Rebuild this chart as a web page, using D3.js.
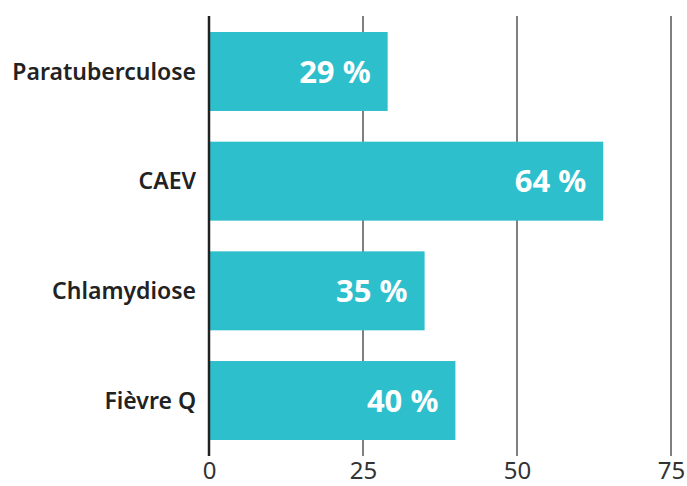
<!DOCTYPE html>
<html>
<head>
<meta charset="utf-8">
<script src="https://cdn.jsdelivr.net/npm/d3@7"></script>
<style>
  body { margin: 0; background: #fff; }
  svg { display: block; font-family: "Noto Sans", sans-serif; }
</style>
</head>
<body>
<svg></svg>
<script>
// chart data
let categories = ['Paratuberculose', 'CAEV', 'Chlamydiose', 'Fièvre Q']
let values = [29, 64, 35, 40]
let tickValues = [0, 25, 50, 75]

let width = 687
let height = 486

let svg = d3.select('svg')
svg.attr('width', width).attr('height', height)

// x = 0 at 209, 75 at 671
let xScale = d3.scaleLinear()
               .domain([0, 75])
               .range([209, 671])

let yScale = d3.scaleBand()
               .domain(categories)
               .range([16, 456])
               .paddingInner(0.28)
               .paddingOuter(0.146)

// gridlines
svg.append('g')
   .selectAll('line')
   .data(tickValues.slice(1))
   .enter()
   .append('line')
   .attr('x1', d => xScale(d))
   .attr('x2', d => xScale(d))
   .attr('y1', 16)
   .attr('y2', 456)
   .attr('stroke', '#555')
   .attr('stroke-width', 1.5)

// bars
svg.append('g')
   .selectAll('rect')
   .data(values)
   .enter()
   .append('rect')
   .attr('x', xScale(0))
   .attr('y', (d, i) => yScale(categories[i]))
   .attr('width', d => xScale(d) - xScale(0))
   .attr('height', yScale.bandwidth())
   .attr('fill', '#2ebfcc')

// value labels
svg.append('g')
   .selectAll('text')
   .data(values)
   .enter()
   .append('text')
   .attr('x', d => xScale(d) - 17)
   .attr('y', (d, i) => yScale(categories[i]) + yScale.bandwidth() / 2)
   .attr('dy', '0.36em')
   .attr('text-anchor', 'end')
   .attr('fill', '#fff')
   .attr('font-size', 31)
   .attr('font-weight', 700)
   .text(d => d + ' %')

// category labels
svg.append('g')
   .selectAll('text')
   .data(categories)
   .enter()
   .append('text')
   .attr('x', 196)
   .attr('y', d => yScale(d) + yScale.bandwidth() / 2)
   .attr('dy', '0.36em')
   .attr('text-anchor', 'end')
   .attr('fill', '#222')
   .attr('font-size', 23)
   .attr('font-weight', 600)
   .text(d => d)

// y axis line
svg.append('line')
   .attr('x1', xScale(0))
   .attr('x2', xScale(0))
   .attr('y1', 16)
   .attr('y2', 456)
   .attr('stroke', '#222')
   .attr('stroke-width', 2.5)

// x axis labels
let xAxis = d3.axisBottom(xScale)
              .tickValues(tickValues)
              .tickSize(0)
              .tickPadding(0)

let gx = svg.append('g')
            .attr('transform', 'translate(0, 462)')
            .call(xAxis)
gx.select('.domain').remove()
gx.selectAll('text')
  .attr('font-size', 24)
  .attr('font-family', '"Noto Sans", sans-serif')
  .attr('fill', '#333')
  .attr('dy', '0.71em')
</script>
</body>
</html>
